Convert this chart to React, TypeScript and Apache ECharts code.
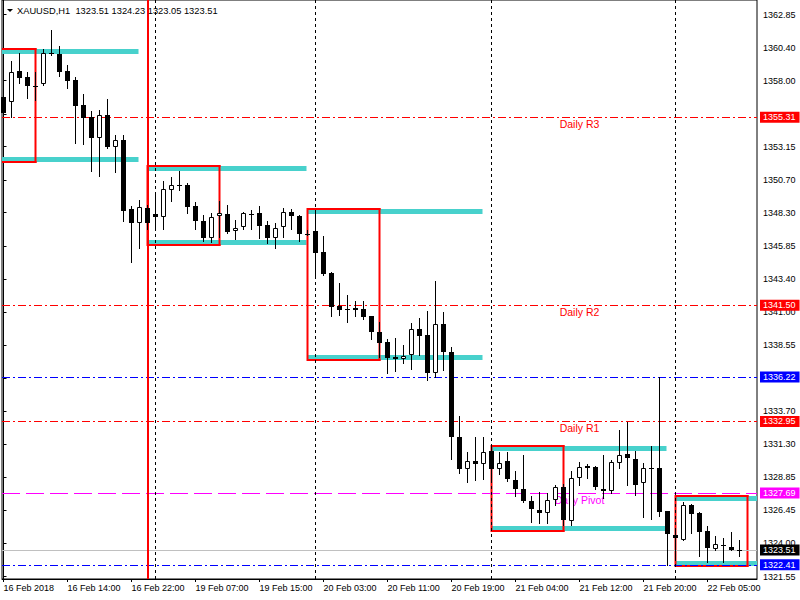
import React, { useEffect, useRef } from "react";
import * as echarts from "echarts";

const symbolName = "XAUUSD,H1";

// H1 candles, bar index 0..92
const opens = [
  1356.8, 1356.45, 1358.71, 1358.25, 1357.64, 1357.73, 1360.07, 1359.96, 1358.71, 1358.05,
  1356.21, 1355.31, 1353.81, 1355.45, 1353.14, 1353.64, 1348.57, 1347.56, 1348.66, 1348.2,
  1348.0, 1349.94, 1350.31, 1350.35, 1348.79, 1347.68, 1346.41, 1348.03, 1348.18, 1346.93,
  1347.26, 1348.2, 1348.25, 1347.39, 1346.46, 1347.22, 1348.34, 1348.05, 1346.76, 1346.95,
  1345.4, 1343.86, 1341.44, 1341.19, 1341.31, 1341.22, 1340.7, 1339.52, 1338.79, 1337.69,
  1337.52, 1337.81, 1339.75, 1339.3, 1336.49, 1340.11, 1338.08, 1331.83, 1329.43, 1330.04,
  1329.82, 1330.78, 1329.43, 1330.04, 1328.65, 1327.96, 1327.13, 1326.44, 1326.2, 1327.18,
  1328.11, 1325.61, 1328.77, 1329.68, 1329.58, 1327.99, 1327.86, 1329.87, 1330.56, 1330.17,
  1328.4, 1329.51, 1329.51, 1326.37, 1324.6, 1324.24, 1326.81, 1326.24, 1324.9, 1323.6,
  1323.87, 1323.75, 1323.51,
];
const highs = [
  1357.17, 1359.44, 1360.01, 1358.66, 1358.66, 1360.3, 1361.72, 1360.57, 1359.15, 1358.25,
  1357.02, 1355.75, 1355.84, 1356.63, 1354.0, 1354.0, 1348.79, 1349.23, 1348.86, 1349.84,
  1350.62, 1350.9, 1351.36, 1350.45, 1349.08, 1348.1, 1348.25, 1349.15, 1348.86, 1347.76,
  1348.37, 1348.49, 1348.79, 1347.68, 1347.51, 1348.62, 1348.54, 1348.1, 1347.02, 1348.32,
  1346.58, 1343.9, 1343.13, 1342.24, 1341.83, 1341.8, 1340.72, 1340.26, 1338.99, 1339.08,
  1338.57, 1340.21, 1340.58, 1341.07, 1343.27, 1340.99, 1338.42, 1333.35, 1330.68, 1331.81,
  1331.81, 1331.09, 1330.68, 1330.68, 1329.33, 1330.46, 1327.47, 1327.76, 1327.67, 1328.28,
  1328.35, 1329.31, 1329.97, 1329.8, 1329.68, 1330.48, 1330.12, 1332.3, 1332.93, 1330.78,
  1329.92, 1331.17, 1336.22, 1326.4, 1324.9, 1327.05, 1326.86, 1326.32, 1325.29, 1324.53,
  1324.36, 1324.8, 1324.23,
];
const lows = [
  1355.4, 1355.33, 1357.85, 1356.75, 1356.58, 1357.7, 1359.88, 1358.36, 1357.48, 1353.39,
  1353.34, 1351.38, 1351.01, 1353.05, 1351.31, 1347.71, 1344.69, 1345.72, 1347.1, 1347.17,
  1347.1, 1349.18, 1349.96, 1348.25, 1347.1, 1346.24, 1346.16, 1346.53, 1346.78, 1346.36,
  1347.12, 1347.13, 1346.46, 1346.04, 1345.72, 1346.53, 1347.07, 1346.24, 1346.65, 1343.71,
  1343.71, 1340.7, 1340.77, 1340.28, 1340.7, 1340.5, 1339.03, 1337.71, 1336.53, 1336.68,
  1337.22, 1336.83, 1337.81, 1336.0, 1336.24, 1336.73, 1330.19, 1329.18, 1328.48, 1328.65,
  1328.7, 1328.65, 1329.07, 1328.57, 1327.47, 1327.05, 1325.58, 1325.46, 1325.51, 1326.81,
  1325.34, 1325.34, 1328.3, 1328.77, 1327.96, 1327.3, 1327.67, 1329.51, 1328.28, 1327.54,
  1325.95, 1325.76, 1325.98, 1322.41, 1322.77, 1324.2, 1324.73, 1323.08, 1322.6, 1323.5,
  1322.6, 1323.48, 1323.05,
];
const closes = [
  1355.62, 1358.64, 1358.22, 1357.61, 1357.58, 1360.01, 1359.96, 1358.66, 1358.0, 1356.14,
  1355.28, 1353.81, 1355.45, 1353.14, 1353.64, 1348.44, 1347.56, 1348.69, 1347.56, 1348.0,
  1350.01, 1350.31, 1350.29, 1348.73, 1347.71, 1346.46, 1347.96, 1348.25, 1346.9, 1347.19,
  1348.27, 1348.19, 1347.34, 1346.46, 1347.15, 1348.32, 1348.03, 1346.71, 1346.74, 1345.35,
  1343.79, 1341.38, 1341.14, 1341.17, 1341.14, 1340.65, 1339.55, 1338.74, 1337.64, 1337.52,
  1337.76, 1339.75, 1339.25, 1336.49, 1340.09, 1338.08, 1331.83, 1329.43, 1330.02, 1329.8,
  1330.73, 1329.43, 1329.92, 1328.74, 1327.96, 1327.13, 1326.49, 1326.2, 1327.15, 1328.11,
  1325.71, 1328.77, 1329.62, 1329.51, 1328.15, 1327.86, 1329.95, 1330.46, 1330.24, 1328.3,
  1329.51, 1329.49, 1326.29, 1324.66, 1324.36, 1326.81, 1326.15, 1324.82, 1323.63, 1323.92,
  1323.8, 1323.48, 1323.51,
];

// time axis labels (bar index -> text)
const xTickBars = [0, 8, 16, 24, 32, 40, 48, 56, 64, 72, 80, 88];
const xTickLabels = [
  "16 Feb 2018", "16 Feb 14:00", "16 Feb 22:00", "19 Feb 07:00", "19 Feb 15:00", "20 Feb 03:00",
  "20 Feb 11:00", "20 Feb 19:00", "21 Feb 04:00", "21 Feb 12:00", "21 Feb 20:00", "22 Feb 05:00",
];
// price axis ticks and the labels that are not hidden behind price flags
const yTickValues = [
  1321.55, 1324.0, 1326.45, 1328.85, 1331.3, 1333.7, 1336.15, 1338.55, 1341.0,
  1343.4, 1345.85, 1348.3, 1350.7, 1353.15, 1355.55, 1358.0, 1360.4, 1362.85,
];
const yLabelValues = [
  1321.55, 1324.0, 1326.45, 1328.85, 1331.3, 1333.7, 1338.55, 1341.0,
  1343.4, 1345.85, 1348.3, 1350.7, 1353.15, 1358.0, 1360.4, 1362.85,
];

// session boxes (red) and their extended high/low lines (turquoise)
const boxStart = [-5, 18, 38, 61, 84];
const boxEnd = [4, 27, 47, 70, 93];
const boxHigh = [1360.3, 1351.73, 1348.54, 1331.17, 1327.47];
const boxLow = [1352.04, 1345.9, 1337.49, 1324.9, 1322.3];
const lineEnd = [17, 38, 60, 83, 99];

// daily pivot levels
const levelNames = ["Daily R3", "Daily R2", "Daily R1", "Daily Pivot"];
const levelValues = [1355.31, 1341.5, 1332.95, 1327.69];
const levelColors = ["#FF0000", "#FF0000", "#FF0000", "#FF00FF"];
const levelLabelBar = 72;

// other horizontal lines
const blueLevels = [1336.22, 1322.41];
const bidPrice = closes[closes.length - 1];

// vertical lines
const separatorBars = [19, 39, 61, 84];
const sessionLineBar = 18;

const FONT = '"Liberation Sans", Arial, sans-serif';

export default function App() {
  const ref = useRef<HTMLDivElement | null>(null);

  useEffect(() => {
    if (!ref.current) return;
    const chart = echarts.init(ref.current, undefined, { renderer: "svg" });

    const candleData = opens.map((o, i) => [i, o, highs[i], lows[i], closes[i]]);
    const boxData = boxStart.map((s, i) => [s, boxEnd[i], boxHigh[i], boxLow[i], lineEnd[i]]);
    const levelData = levelValues.map((v) => [levelLabelBar, v]);
    const last = opens.length - 1;
    const header = `${symbolName}  ${opens[last].toFixed(2)} ${highs[last].toFixed(2)} ${lows[last].toFixed(2)} ${closes[last].toFixed(2)}`;

    const flag = (v: number, color: string) => ({
      show: true,
      position: "end",
      distance: 3,
      formatter: v.toFixed(2),
      backgroundColor: color,
      color: "#FFFFFF",
      fontSize: 9,
      fontFamily: FONT,
      lineHeight: 10,
      padding: [1, 4, 0, 3],
    });
    const dashDot = [8, 3, 2, 3];

    const hLines: any[] = [];
    levelValues.forEach((v, i) => {
      hLines.push({
        yAxis: v,
        lineStyle: { color: levelColors[i], width: 1, type: i === 3 ? [18, 6] : dashDot, opacity: 1 },
        label: flag(v, levelColors[i]),
      });
    });
    blueLevels.forEach((v) => {
      hLines.push({
        yAxis: v,
        lineStyle: { color: "#0000FF", width: 1, type: dashDot, opacity: 1 },
        label: flag(v, "#0000FF"),
      });
    });
    hLines.push({
      yAxis: bidPrice,
      lineStyle: { color: "#C0C0C0", width: 1, type: "solid", opacity: 1 },
      label: flag(bidPrice, "#000000"),
    });
    separatorBars.forEach((b) => {
      hLines.push({
        xAxis: b,
        lineStyle: { color: "#000000", width: 1, type: [3, 3], opacity: 1 },
        label: { show: false },
      });
    });

    const option: any = {
      animation: false,
      backgroundColor: "#FFFFFF",
      grid: {
        left: 2,
        right: 43,
        top: 0,
        height: 579,
        show: true,
        borderColor: "#000000",
        borderWidth: 1,
        backgroundColor: "transparent",
      },
      xAxis: {
        type: "value",
        min: -0.1875,
        max: 94.1875,
        axisLine: { show: true, lineStyle: { color: "#000000", width: 1 } },
        axisTick: { show: true, customValues: xTickBars, length: 3, lineStyle: { color: "#000" } },
        axisLabel: {
          show: true,
          customValues: xTickBars,
          formatter: (v: number) => {
            const k = xTickBars.indexOf(Math.round(v));
            return k >= 0 ? xTickLabels[k] : "";
          },
          align: "left",
          margin: 4,
          color: "#000000",
          fontSize: 9,
          fontFamily: FONT,
        },
        splitLine: { show: false },
      },
      yAxis: {
        type: "value",
        position: "right",
        min: 1321.37,
        max: 1363.93,
        axisLine: { show: true, lineStyle: { color: "#000000", width: 1 } },
        axisTick: { show: true, customValues: yTickValues, length: 3, lineStyle: { color: "#000" } },
        axisLabel: {
          show: true,
          customValues: yLabelValues,
          formatter: (v: number) => Number(v).toFixed(2),
          margin: 6,
          color: "#000000",
          fontSize: 9,
          fontFamily: FONT,
        },
        splitLine: { show: false },
      },
      graphic: [
        {
          type: "polygon",
          z: 100,
          shape: { points: [[7, 9], [13, 9], [10, 12]] },
          style: { fill: "#000000" },
        },
        {
          type: "text",
          z: 100,
          x: 17,
          y: 11,
          style: {
            text: header,
            fill: "#000000",
            fontSize: 9.3,
            fontFamily: FONT,
            verticalAlign: "middle",
          },
        },
      ],
      series: [
        {
          type: "line",
          data: [],
          silent: true,
          z: 2,
          markLine: {
            silent: true,
            animation: false,
            symbol: ["none", "none"],
            data: hLines,
          },
        },
        {
          type: "custom",
          silent: true,
          z: 3,
          data: levelData,
          encode: { x: 0, y: 1 },
          renderItem: (params: any, api: any) => {
            const p = api.coord([api.value(0), api.value(1)]);
            const idx = params.dataIndex;
            return {
              type: "text",
              x: p[0],
              y: p[1] + 7,
              style: {
                text: levelNames[idx],
                fill: levelColors[idx],
                fontSize: 10.5,
                fontFamily: FONT,
                align: "center",
                verticalAlign: "middle",
              },
            };
          },
        },
        {
          type: "custom",
          silent: true,
          z: 4,
          data: boxData,
          encode: { x: [0, 1], y: [2, 3] },
          renderItem: (params: any, api: any) => {
            const cs = params.coordSys;
            const left = cs.x;
            const right = cs.x + cs.width;
            const s = api.value(0), e = api.value(1), hi = api.value(2), lo = api.value(3), le = api.value(4);
            const pTL = api.coord([s, hi]);
            const pBR = api.coord([e, lo]);
            const pLE = api.coord([le, hi]);
            const x1 = pTL[0], x2 = pBR[0];
            const yT = Math.round(pTL[1]);
            const yB = Math.round(pBR[1]);
            const cx1 = Math.max(x1, left);
            const cLe = Math.min(pLE[0] - 1, right);
            const children: any[] = [
              { type: "rect", shape: { x: cx1, y: yT, width: cLe - cx1, height: 5 }, style: { fill: "#48D1CC" } },
              { type: "rect", shape: { x: cx1, y: yB - 5, width: cLe - cx1, height: 5 }, style: { fill: "#48D1CC" } },
            ];
            const rx1 = Math.max(x1, left);
            const rx2 = Math.min(x2, right);
            const red = { stroke: "#FF0000", lineWidth: 2 };
            children.push({ type: "line", shape: { x1: rx1, y1: yT, x2: rx2 + 1, y2: yT }, style: red });
            children.push({ type: "line", shape: { x1: rx1, y1: yB, x2: rx2 + 1, y2: yB }, style: red });
            if (x1 >= left) children.push({ type: "line", shape: { x1: x1, y1: yT - 1, x2: x1, y2: yB + 1 }, style: red });
            if (x2 <= right) children.push({ type: "line", shape: { x1: x2, y1: yT - 1, x2: x2, y2: yB + 1 }, style: red });
            return { type: "group", children };
          },
        },
        {
          type: "custom",
          silent: true,
          z: 5,
          data: candleData,
          encode: { x: 0, y: [1, 2, 3, 4] },
          renderItem: (params: any, api: any) => {
            const i = api.value(0);
            const o = api.value(1), h = api.value(2), l = api.value(3), c = api.value(4);
            const pO = api.coord([i, o]);
            const pC = api.coord([i, c]);
            const pH = api.coord([i, h]);
            const pL = api.coord([i, l]);
            const col = Math.floor(pO[0]);
            const cx = col + 0.5;
            const top = Math.round(Math.min(pO[1], pC[1]));
            const bot = Math.round(Math.max(pO[1], pC[1]));
            const children: any[] = [
              {
                type: "line",
                shape: { x1: cx, y1: Math.round(pH[1]), x2: cx, y2: Math.round(pL[1]) + 1 },
                style: { stroke: "#000000", lineWidth: 1 },
              },
            ];
            if (bot - top < 2) {
              children.push({ type: "rect", shape: { x: col - 2, y: top, width: 5, height: Math.max(bot - top, 1) }, style: { fill: "#000000" } });
            } else if (c > o) {
              children.push({
                type: "rect",
                shape: { x: col - 1.5, y: top + 0.5, width: 4, height: bot - top - 1 },
                style: { fill: "#FFFFFF", stroke: "#000000", lineWidth: 1 },
              });
            } else {
              children.push({ type: "rect", shape: { x: col - 2, y: top, width: 5, height: bot - top }, style: { fill: "#000000" } });
            }
            return { type: "group", children };
          },
        },
        {
          type: "line",
          data: [],
          silent: true,
          z: 6,
          markLine: {
            silent: true,
            animation: false,
            symbol: ["none", "none"],
            data: [
              {
                xAxis: sessionLineBar,
                lineStyle: { color: "#FF0000", width: 2, type: "solid", opacity: 1 },
                label: { show: false },
              },
            ],
          },
        },
      ],
    };

    chart.setOption(option);
    return () => {
      chart.dispose();
    };
  }, []);

  return (
    <div
      ref={ref}
      style={{ position: "fixed", left: 0, top: 0, width: 800, height: 600, background: "#FFFFFF" }}
    />
  );
}
